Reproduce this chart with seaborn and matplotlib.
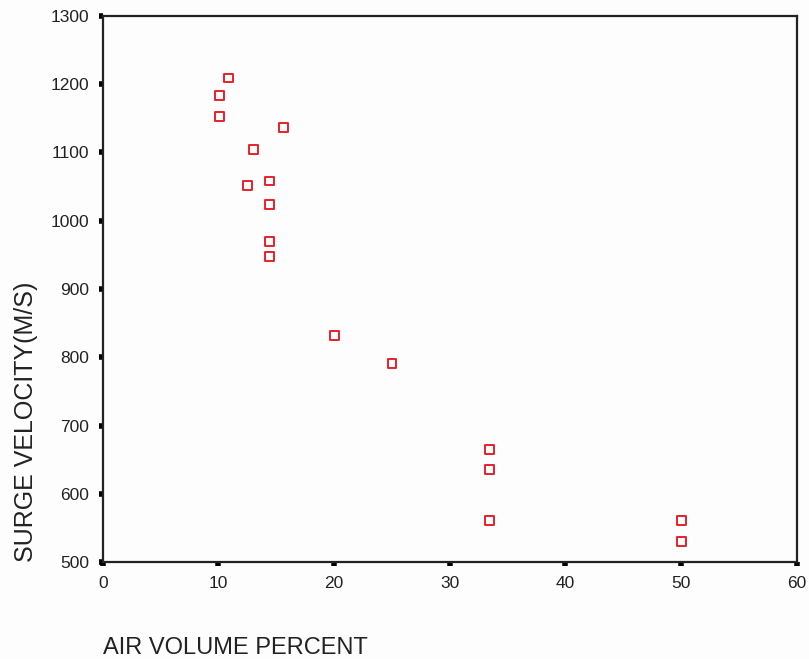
import matplotlib
matplotlib.use("Agg")
import matplotlib.pyplot as plt
import seaborn as sns
import pandas as pd

# values
air_volume = [10.9, 10.1, 10.1, 15.6, 13.0, 12.5, 14.4, 14.4, 14.4, 14.4,
              20.0, 25.0, 33.4, 33.4, 33.4, 50.0, 50.0]
surge_velocity = [1209, 1183, 1153, 1136, 1104, 1051, 1058, 1024, 969, 947,
                  832, 791, 665, 636, 561, 561, 530]

x_ticks = [0, 10, 20, 30, 40, 50, 60]
y_ticks = [500, 600, 700, 800, 900, 1000, 1100, 1200, 1300]

df = pd.DataFrame({"air": air_volume, "vel": surge_velocity})

sns.set_style("white")
plt.rcParams["font.family"] = ["Liberation Sans", "DejaVu Sans"]

fig = plt.figure(figsize=(8.09, 6.59), dpi=100)
fig.patch.set_facecolor("#fdfdfd")
ax = fig.add_axes([0.127, 0.147, 0.858, 0.829])
ax.set_facecolor("#fdfdfd")

sns.scatterplot(data=df, x="air", y="vel", marker="s", s=40,
                facecolor="none", edgecolor="#e8202a", linewidth=1.4, ax=ax)

ax.set_xlim(0, 60)
ax.set_ylim(500, 1300)
ax.set_xticks(x_ticks)
ax.set_yticks(y_ticks)
ax.tick_params(axis="both", bottom=True, left=True, direction="out",
               length=3, width=4, labelsize=12.5, colors="black",
               labelcolor="#222222")
ax.tick_params(axis="y", pad=7)
ax.tick_params(axis="x", pad=7)
for sp in ax.spines.values():
    sp.set_color("#222222")
    sp.set_linewidth(1.6)

ax.set_xlabel("AIR VOLUME PERCENT", loc="left", fontsize=17, labelpad=33,
              color="#222222")
ax.set_ylabel("SURGE VELOCITY(M/S)", loc="bottom", fontsize=18, labelpad=9,
              color="#222222")

fig.savefig("out.png", dpi=100, facecolor=fig.get_facecolor())
